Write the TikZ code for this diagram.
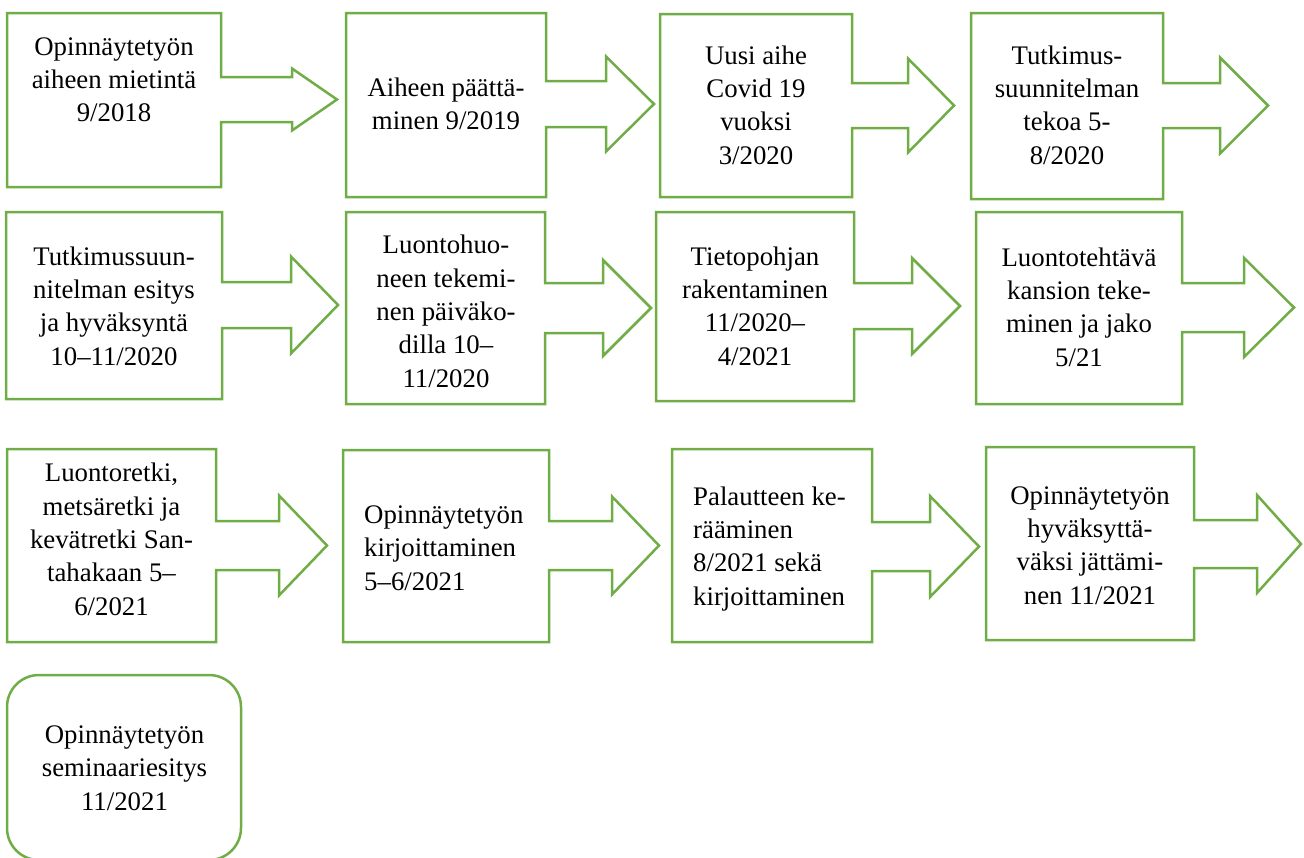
\documentclass[tikz,border=0pt]{standalone}
\usepackage{fontspec}
\setmainfont{Liberation Serif}
\definecolor{offgreen}{RGB}{112,173,71}
\newcommand\mycallout[9]{%
  \draw[shapeline] (#1,#2) -- (#3,#2) -- (#3,#5) -- (#7,#5) -- (#7,{(#5+#6)/2-#8})
    -- (#9,{(#5+#6)/2}) -- (#7,{(#5+#6)/2+#8}) -- (#7,#6) -- (#3,#6) -- (#3,#4) -- (#1,#4) -- cycle;}
\tikzset{
  shapeline/.style={draw=offgreen, line width=2.5pt, line join=miter},
  txt/.style={font=\fontsize{26.8}{33.3}\selectfont, align=center, anchor=base, inner sep=0pt},
  txtl/.style={font=\fontsize{26.8}{33.3}\selectfont, align=left, anchor=base west, inner sep=0pt}
}
\begin{document}
\begin{tikzpicture}[x=1pt,y=-1pt]
\useasboundingbox (0,0) rectangle (1304,857);
% row 1
\mycallout{7}{13}{221}{187}{77}{122}{292}{31}{337}
\mycallout{346}{13}{546}{197}{81}{127}{606}{47.5}{654}
\mycallout{660}{14}{852}{197}{83}{128}{908}{47}{954}
\mycallout{971}{13}{1163}{199}{83}{128}{1220}{48}{1268}
% row 2
\mycallout{6}{212}{222}{399}{282}{328}{291}{48.5}{338}
\mycallout{346}{212}{545}{404}{283}{333}{603}{48}{651}
\mycallout{656}{212}{854}{401}{283}{329}{912}{48}{960}
\mycallout{976}{212}{1182}{404}{283}{332}{1244}{49.5}{1294}
% row 3
\mycallout{7}{449}{216}{642}{521}{570}{279}{50}{327}
\mycallout{343}{450}{549}{642}{521}{570}{612}{49}{659}
\mycallout{672}{449}{872}{642}{522}{571}{930}{50.5}{979}
\mycallout{986}{447}{1194}{640}{520}{568}{1257}{49}{1301}
% final rounded box
\draw[shapeline, rounded corners=32pt] (7,675) rectangle (241,860);

% anchor=base is the baseline of the last line
\node[txt] (t1) at (114,121.6) {Opinnäytetyön\\aiheen mietintä\\9/2018};
\node[txt] (t2) at (446,129.3) {Aiheen päättä-\\minen 9/2019};
\node[txt] (t3) at (756,164) {Uusi aihe\\Covid 19\\vuoksi\\3/2020};
\node[txt] (t4) at (1067,164) {Tutkimus-\\suunnitelman\\tekoa 5-\\8/2020};
\node[txt] (t5) at (114,365) {Tutkimussuun-\\nitelman esitys\\ja hyväksyntä\\10–11/2020};
\node[txt] (t6) at (446,387) {Luontohuo-\\neen tekemi-\\nen päiväko-\\dilla 10–\\11/2020};
\node[txt] (t7) at (755,365) {Tietopohjan\\rakentaminen\\11/2020–\\4/2021};
\node[txt] (t8) at (1079,366) {Luontotehtävä\\kansion teke-\\minen ja jako\\5/21};
\node[txt] (t9) at (111.5,615) {Luontoretki,\\metsäretki ja\\kevätretki San-\\tahakaan 5–\\6/2021};
\node[txtl] (t10) at (364,590) {Opinnäytetyön\\kirjoittaminen\\5–6/2021};
\node[txtl] (t11) at (693,605) {Palautteen ke-\\rääminen\\8/2021 sekä\\kirjoittaminen};
\node[txt] (t12) at (1090,604) {Opinnäytetyön\\hyväksyttä-\\väksi jättämi-\\nen 11/2021};
\node[txt] (t13) at (124.5,810) {Opinnäytetyön\\seminaariesitys\\11/2021};
\end{tikzpicture}
\end{document}
